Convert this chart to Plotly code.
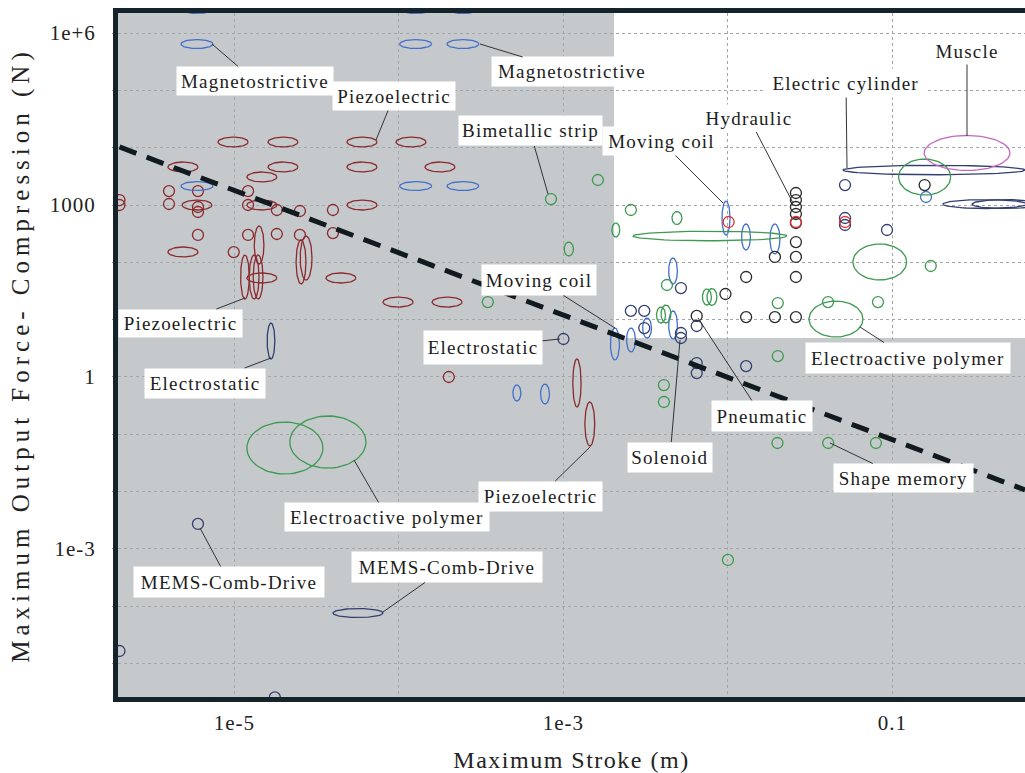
import numpy as np
import plotly.graph_objects as go

# ---------------- data (stroke in m, force in N) ----------------
# elliptical ranges: (stroke_lo, stroke_hi, force_lo, force_hi)
piezo_ranges = [
    (7.94e-6, 1.21e-5, 1.03e4, 1.53e4), (1.60e-5, 2.43e-5, 1.03e4, 1.53e4),
    (4.83e-5, 7.35e-5, 1.03e4, 1.53e4), (9.6e-5, 1.46e-4, 1.03e4, 1.53e4),
    (3.94e-6, 6.0e-6, 3.77e3, 5.62e3), (1.60e-5, 2.43e-5, 3.77e3, 5.62e3),
    (4.83e-5, 7.35e-5, 3.77e3, 5.62e3), (1.44e-4, 2.19e-4, 3.77e3, 5.62e3),
    (1.19e-5, 1.81e-5, 2.52e3, 3.76e3), (4.80e-6, 7.29e-6, 818, 1.22e3),
    (1.19e-5, 1.81e-5, 818, 1.22e3), (4.83e-5, 7.35e-5, 818, 1.22e3),
    (3.94e-6, 6.0e-6, 124, 185), (1.19e-5, 1.81e-5, 43.6, 65.2),
    (3.6e-5, 5.47e-5, 43.6, 65.2), (8.0e-5, 1.22e-4, 16.6, 24.8),
    (1.59e-4, 2.42e-4, 16.6, 24.8),
    (1.32e-5, 1.51e-5, 93.5, 430), (1.09e-5, 1.23e-5, 22.9, 134),
    (1.23e-5, 1.41e-5, 22.9, 134), (1.30e-5, 1.49e-5, 22.9, 134),
    (2.37e-5, 2.72e-5, 41.9, 245), (2.51e-5, 2.96e-5, 49.1, 288),
    (1.14e-3, 1.28e-3, 0.299, 2.06), (1.35e-3, 1.55e-3, 0.0625, 0.366),
]
piezo_stroke = [2.0e-6, 2.0e-6, 4.0e-6, 6.0e-6, 4.0e-6, 6.0e-6, 6.0e-6, 1.21e-5, 1.21e-5,
                1.81e-5, 2.5e-5, 3.97e-5, 6.0e-6, 1.21e-5, 1.81e-5, 2.5e-5, 3.97e-5,
                9.9e-6, 2.01e-4]
piezo_force = [1.22e3, 1.0e3, 1.75e3, 1.75e3, 1.04e3, 923, 755, 1.75e3, 1.0e3,
               818, 786, 818, 300, 300, 312, 300, 324, 151, 1.0]

magneto_ranges = [
    (4.73e-6, 7.40e-6, 5.37e5, 7.69e5), (1.01e-4, 1.58e-4, 5.37e5, 7.69e5),
    (1.96e-4, 3.06e-4, 5.37e5, 7.69e5), (4.73e-6, 7.40e-6, 2.19e6, 3.14e6),
    (1.01e-4, 1.58e-4, 2.19e6, 3.14e6), (1.96e-4, 3.06e-4, 2.19e6, 3.14e6),
    (4.73e-6, 7.40e-6, 1.79e3, 2.56e3), (1.01e-4, 1.58e-4, 1.79e3, 2.56e3),
    (1.96e-4, 3.06e-4, 1.79e3, 2.56e3),
]
coil_ranges = [
    (9.2e-3, 1.03e-2, 299, 1.17e3), (1.21e-2, 1.37e-2, 164, 467),
    (1.8e-2, 2.07e-2, 140, 467), (4.36e-3, 4.93e-3, 41.9, 119),
    (3.03e-3, 3.43e-3, 4.79, 10.7), (4.36e-3, 4.93e-3, 4.6, 14.2),
    (1.93e-3, 2.19e-3, 1.98, 7.16), (2.42e-3, 2.74e-3, 2.73, 7.14),
    (4.93e-4, 5.51e-4, 0.381, 0.726), (7.26e-4, 8.22e-4, 0.338, 0.753),
]
coil_stroke = [0.16]
coil_force = [1.38e3]

navy_ranges = [
    (1.58e-5, 1.76e-5, 2.06, 8.75), (3.97e-5, 8.0e-5, 6.38e-5, 9.14e-5),
    (5.01e-2, 0.64, 3.37e3, 4.92e3), (0.203, 0.656, 869, 1.24e3),
    (0.305, 0.766, 869, 1.24e3),
]
navy_stroke = [1.0e-3, 6.0e-6, 2.0e-6, 1.76e-5, 2.57e-3, 3.1e-3, 3.1e-3, 5.18e-3, 5.18e-3,
               5.18e-3, 6.46e-3, 6.46e-3, 6.46e-3, 1.29e-2, 5.15e-2, 5.15e-2, 5.15e-2, 9.27e-2]
navy_force = [4.6, 2.73e-3, 1.66e-5, 2.57e-6, 14.2, 14.2, 7.14, 35.6, 5.85,
              4.79, 7.75, 1.75, 1.17, 1.55, 2.23e3, 593, 448, 366]

green_ranges = [
    (1.19e-5, 3.45e-5, 0.0203, 0.164), (2.17e-5, 6.3e-5, 0.0258, 0.209),
    (1.01e-3, 1.15e-3, 129, 226), (4.57e-3, 5.25e-3, 457, 769),
    (1.97e-3, 2.2e-3, 277, 485), (2.65e-3, 2.29e-2, 238, 348),
    (7.0e-3, 7.93e-3, 18.0, 34.3), (7.46e-3, 8.57e-3, 17.7, 34.9),
    (3.68e-3, 4.17e-3, 8.73, 16.6), (3.92e-3, 4.5e-3, 8.75, 18.0),
    (3.11e-2, 6.62e-2, 4.98, 21.1), (5.75e-2, 0.122, 49.2, 209),
    (0.109, 0.226, 1.49e3, 6.34e3),
]
green_stroke = [8.4e-4, 1.62e-3, 3.47e-4, 2.57e-3, 4.26e-3, 2.01e-2, 4.06e-2, 8.17e-2,
                2.01e-2, 0.171, 4.08e-3, 4.08e-3, 2.0e-2, 4.07e-2, 7.94e-2, 1.0e-2]
green_force = [1.27e3, 2.73e3, 20.3, 818, 40.2, 19.5, 20.3, 20.3,
               2.32, 86.3, 0.724, 0.366, 0.0705, 0.0705, 0.0705, 6.43e-4]

fluid_stroke = [2.59e-2, 2.59e-2, 2.59e-2, 2.59e-2, 2.59e-2, 2.59e-2, 2.59e-2, 2.59e-2,
                2.59e-2, 1.93e-2, 1.29e-2, 9.66e-3, 1.29e-2, 1.93e-2, 6.46e-3, 0.157]
fluid_force = [1.62e3, 1.22e3, 923, 697, 485, 226, 124, 55.5,
               11.1, 124, 55.5, 28.0, 11.1, 11.1, 11.6, 2.23e3]
red_stroke = [1.01e-2, 2.59e-2, 5.15e-2]
red_force = [505, 505, 505]

muscle_ranges = [(0.156, 0.518, 4.0e3, 1.63e4)]

limit_stroke = [2.0e-6, 0.64]
limit_force = [1.03e4, 0.0107]

white_region_stroke_min = 2.03e-3
white_region_force_min = 4.8

x_tickvals = [1e-5, 1e-4, 1e-3, 1e-2, 1e-1]
x_ticktext = ["1e-5", "", "1e-3", "", "0.1"]
y_tickvals = [1e-5, 1e-4, 1e-3, 1e-2, 1e-1, 1, 10, 100, 1e3, 1e4, 1e5, 1e6]
y_ticktext = ["", "", "1e-3", "", "", "1", "", "", "1000", "", "", "1e+6"]

# ---------------- styles ----------------
C_PIEZO = "#8b2a2e"
C_BLUE = "#4270cc"
C_NAVY = "#323f70"
C_GREEN = "#3d9a50"
C_BLACK = "#2a2a2a"
C_RED = "#e23030"
C_MUSCLE = "#c467c4"
BG_GREY = "#c5c9cb"
BORDER = "#15232a"
FONT = "Liberation Serif, Times New Roman, serif"

fig = go.Figure()


def ellipse_path(ranges, n=72):
    t = np.linspace(0, 2 * np.pi, n)
    xs, ys = [], []
    for (xlo, xhi, ylo, yhi) in ranges:
        cx = (np.log10(xlo) + np.log10(xhi)) / 2
        rx = (np.log10(xhi) - np.log10(xlo)) / 2
        cy = (np.log10(ylo) + np.log10(yhi)) / 2
        ry = (np.log10(yhi) - np.log10(ylo)) / 2
        xs += list(10 ** (cx + rx * np.cos(t))) + [None]
        ys += list(10 ** (cy + ry * np.sin(t))) + [None]
    return xs, ys


def add_ranges(ranges, color):
    xs, ys = ellipse_path(ranges)
    fig.add_trace(go.Scatter(x=xs, y=ys, mode="lines", line=dict(color=color, width=1.3),
                             hoverinfo="skip", showlegend=False))


def add_points(xs, ys, color):
    fig.add_trace(go.Scatter(x=xs, y=ys, mode="markers",
                             marker=dict(symbol="circle-open", size=11, color=color,
                                         line=dict(width=1.3, color=color)),
                             hoverinfo="skip", showlegend=False))


add_ranges(piezo_ranges, C_PIEZO)
add_points(piezo_stroke, piezo_force, C_PIEZO)
add_ranges(magneto_ranges, C_BLUE)
add_ranges(coil_ranges, C_BLUE)
add_points(coil_stroke, coil_force, C_BLUE)
add_ranges(navy_ranges, C_NAVY)
add_points(navy_stroke, navy_force, C_NAVY)
add_ranges(green_ranges, C_GREEN)
add_points(green_stroke, green_force, C_GREEN)
add_points(fluid_stroke, fluid_force, C_BLACK)
add_points(red_stroke, red_force, C_RED)
add_ranges(muscle_ranges, C_MUSCLE)

fig.add_trace(go.Scatter(x=limit_stroke, y=limit_force, mode="lines",
                         line=dict(color="#111a1f", width=5, dash="18px,11px"),
                         hoverinfo="skip", showlegend=False))

# white region (above the limit)
fig.add_shape(type="rect", xref="x", yref="y", x0=white_region_stroke_min, x1=100,
              y0=white_region_force_min, y1=1e9, fillcolor="white", line_width=0, layer="below")

# plot frame (left, top, bottom)
W, H = 907, 684
for x0, y0, x1, y1 in [(-2.5 / W, -5 / H, -2.5 / W, 1 + 5 / H),
                       (-5 / W, 1 + 2.5 / H, 1.01, 1 + 2.5 / H),
                       (-5 / W, -2.5 / H, 1.01, -2.5 / H)]:
    fig.add_shape(type="line", xref="paper", yref="paper", x0=x0, y0=y0, x1=x1, y1=y1,
                  line=dict(color=BORDER, width=5), layer="above")

# labels: text, label centre (px), box w/h, leader end (px)
labels = [
    ("Magnetostrictive", 255, 81, 156, 28, 212, 44),
    ("Magnetostrictive", 572, 72, 160, 29, 480, 44),
    ("Piezoelectric", 394, 96, 122, 28, 376, 140),
    ("Bimetallic strip", 530, 131, 143, 29, 548, 194),
    ("Moving coil", 661, 141, 117, 28, 723, 203),
    ("Hydraulic", 749, 118, 96, 27, 793, 203),
    ("Electric cylinder", 846, 83, 160, 28, 847, 168),
    ("Muscle", 967, 51, 74, 26, 967, 136),
    ("Moving coil", 539, 280, 114, 30, 615, 328),
    ("Electrostatic", 483, 347, 118, 33, 560, 339),
    ("Piezoelectric", 180, 323, 123, 27, 245, 298),
    ("Electrostatic", 205, 383, 120, 29, 271, 358),
    ("Electroactive polymer", 908, 358, 204, 30, 860, 327),
    ("Pneumatic", 762, 416, 100, 30, 698, 318),
    ("Solenoid", 670, 457, 84, 29, 680, 340),
    ("Shape memory", 903, 478, 139, 28, 830, 443),
    ("Piezoelectric", 540, 496, 123, 29, 590, 447),
    ("Electroactive polymer", 387, 517, 204, 28, 354, 460),
    ("MEMS-Comb-Drive", 229, 582, 190, 30, 200, 528),
    ("MEMS-Comb-Drive", 447, 567, 190, 30, 383, 612),
]
L, T = 118, 13
annotations = []
for text, cx, cy, w, h, tx, ty in labels:
    annotations.append(dict(
        text=text, xref="paper", yref="paper",
        x=(tx - L) / W, y=(T + H - ty) / H, ax=cx - tx, ay=cy - ty,
        showarrow=True, arrowhead=0, arrowwidth=1, arrowcolor="#333", standoff=0,
        bgcolor="white", borderpad=0, width=w, height=h,
        font=dict(family=FONT, size=19, color="#1c1c1c")))

fig.update_layout(
    width=1025, height=773,
    margin=dict(l=L, r=0, t=T, b=773 - T - H),
    paper_bgcolor="white", plot_bgcolor=BG_GREY,
    showlegend=False,
    annotations=annotations,
    font=dict(family=FONT, color="#222"),
)
fig.update_xaxes(type="log", range=[-5.708, -0.194], tickvals=x_tickvals, ticktext=x_ticktext,
                 showgrid=True, gridcolor="#a3a7a9", griddash="dot", gridwidth=1,
                 zeroline=False, showline=False, ticks="outside", ticklen=4, tickcolor="#999",
                 ticklabelstandoff=3, tickfont=dict(family=FONT, size=21, color="#222"),
                 title=dict(text="Maximum Stroke (m)", font=dict(family=FONT, size=24, color="#222"),
                            standoff=17))
fig.update_yaxes(type="log", range=[-5.582, 6.349], tickvals=y_tickvals, ticktext=y_ticktext,
                 showgrid=True, gridcolor="#a3a7a9", griddash="dot", gridwidth=1,
                 zeroline=False, showline=False, ticks="outside", ticklen=5, tickcolor="#999",
                 ticklabelstandoff=12, tickfont=dict(family=FONT, size=21, color="#222"),
                 title=dict(text="Maximum Output Force- Compression (N)",
                            font=dict(family=FONT, size=25, color="#222"), standoff=16))

post = ("document.body.style.margin='0';document.body.style.overflow='hidden';"
        "var st=document.createElement('style');"
        "st.textContent='.annotation-text{letter-spacing:1.2px}"
        ".xtick text,.ytick text{letter-spacing:1px}"
        ".g-xtitle text{letter-spacing:1.5px}.g-ytitle text{letter-spacing:5px}';"
        "document.head.appendChild(st);")
fig.write_html("out.html", post_script=post, config={"displayModeBar": False})
